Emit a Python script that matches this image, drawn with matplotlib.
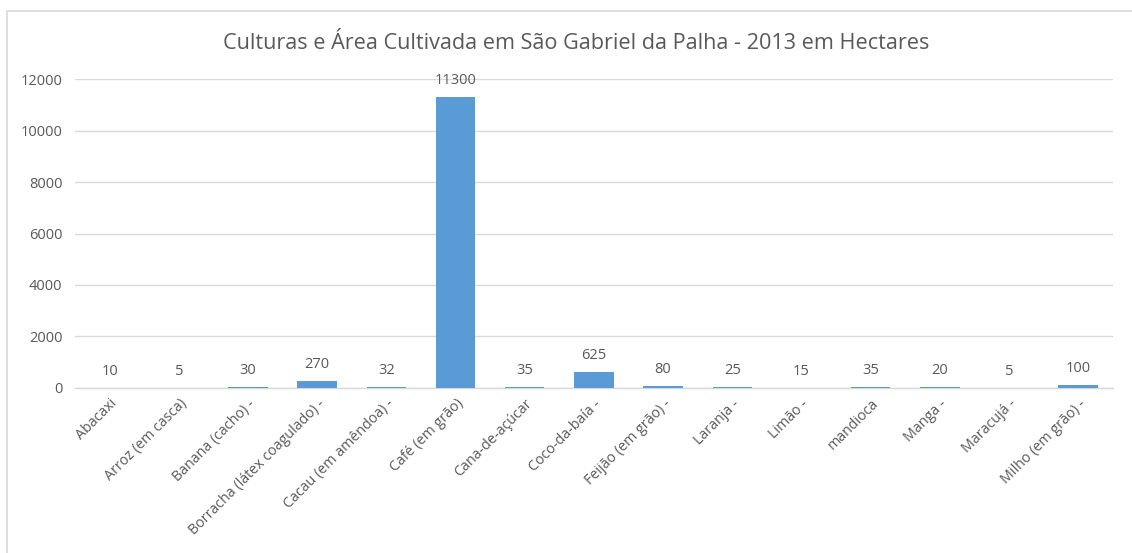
import matplotlib
matplotlib.use('Agg')
import matplotlib.pyplot as plt
import matplotlib.patches as mpatches
import numpy as np

plt.rcParams['font.family'] = ['Open Sans', 'DejaVu Sans']

# ---- Data ----
culturas = ['Abacaxi', 'Arroz (em casca)', 'Banana (cacho) -',
            'Borracha (látex coagulado) -', 'Cacau (em amêndoa) -',
            'Café (em grão)', 'Cana-de-açúcar', 'Coco-da-baía -',
            'Feijão (em grão) -', 'Laranja -', 'Limão -', 'mandioca',
            'Manga -', 'Maracujá -', 'Milho (em grão) -']
area_ha = [10, 5, 30, 270, 32, 11300, 35, 625, 80, 25, 15, 35, 20, 5, 100]
y_ticks = [0, 2000, 4000, 6000, 8000, 10000, 12000]

# ---- Style ----
C_BAR = '#5B9BD5'
C_TEXT = '#595959'
C_GRID = '#D9D9D9'

fig = plt.figure(figsize=(11.32, 5.53), dpi=100)
ax = fig.add_axes([0.0663, 0.2984, 0.9167, 0.5587])

# chart border (left + top visible)
fig.patches.append(mpatches.Rectangle((7 / 1132, -0.05), 1.2, 1 - 11 / 553 + 0.05,
                                      transform=fig.transFigure, fill=False,
                                      edgecolor='#D9D9D9', linewidth=1.2))

x = np.arange(len(culturas))
ax.bar(x, area_ha, width=0.57, color=C_BAR, zorder=3)

for xi, v in zip(x, area_ha):
    ax.annotate(str(v), (xi, v), xytext=(0, 6.5), textcoords='offset points',
                ha='center', va='bottom', fontsize=10.5, color=C_TEXT)

ax.set_xlim(-0.5, len(culturas) - 0.5)
ax.set_ylim(0, 12000)
ax.set_yticks(y_ticks)
ax.set_yticklabels([str(t) for t in y_ticks], fontsize=10.5, color=C_TEXT)
ax.yaxis.grid(True, color=C_GRID, linewidth=1, zorder=0)
ax.set_axisbelow(True)

ax.set_xticks(x)
ax.set_xticklabels(culturas, rotation=45, ha='right', rotation_mode='anchor',
                   fontsize=10.3, color=C_TEXT)
ax.tick_params(axis='both', length=0)
ax.tick_params(axis='y', pad=9)
ax.tick_params(axis='x', pad=6)

for s in ['top', 'right', 'left']:
    ax.spines[s].set_visible(False)
ax.spines['bottom'].set_color(C_GRID)
ax.spines['bottom'].set_linewidth(1)

fig.text(0.509, 0.921, 'Culturas e Área Cultivada em São Gabriel da Palha - 2013 em Hectares',
         ha='center', va='center', fontsize=15.6, color=C_TEXT)

fig.savefig('out.png', dpi=100, facecolor='white')
